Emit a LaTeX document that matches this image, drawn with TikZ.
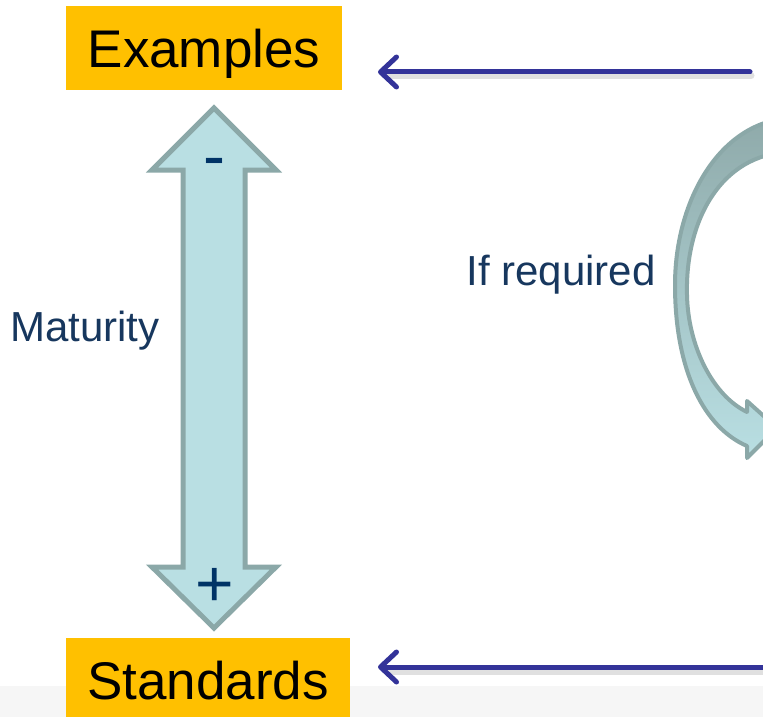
\documentclass[tikz,border=0pt]{standalone}
\usepackage{fontspec}
\setmainfont{Liberation Sans}
\usetikzlibrary{positioning}
\usetikzlibrary{calc}
\usetikzlibrary{arrows.meta}

\definecolor{boxorange}{RGB}{255,192,0}
\definecolor{navytext}{RGB}{23,55,94}
\definecolor{signnavy}{RGB}{0,51,102}
\definecolor{flowblue}{RGB}{51,51,153}
\definecolor{arrowfill}{RGB}{185,223,227}
\definecolor{arrowedge}{RGB}{139,168,168}
\definecolor{curvetop}{RGB}{143,170,170}
\definecolor{stripgray}{RGB}{246,246,246}

\tikzset{
    label box/.style = {fill=boxorange, inner sep=0pt, text height=38pt, text depth=0pt,
                        font=\fontsize{53}{60}\selectfont},
    side text/.style = {text=navytext, inner sep=0pt, font=\fontsize{42}{48}\selectfont},
    sign/.style      = {text=signnavy, inner sep=0pt, font=\fontsize{66}{66}\selectfont},
    flow/.style      = {draw=flowblue, line width=5pt, line cap=round,
                        -{Straight Barb[length=16pt, width=30pt, round]}},
    flow shadow/.style = {draw=black, opacity=0.12, line width=7pt, line cap=round},
    maturity arrow/.style = {fill=arrowfill, draw=arrowedge, line width=5pt, line join=miter},
}

\begin{document}
\begin{tikzpicture}[x=1pt, y=-1pt]
    \useasboundingbox (0,0) rectangle (763,717);
    \clip (0,0) rectangle (763,717);
    \fill[stripgray] (0,686) rectangle (763,717);

    % boxes and texts
    \node[label box, minimum width=276pt, minimum height=84pt] (examples)  at (204,48)  {Examples};
    \node[label box, minimum width=284pt, minimum height=84pt] (standards) at (208,680) {Standards};
    \node[side text] (maturity) at (85,331)  {Maturity};
    \node[side text] (ifreq)    at (561,275) {If required};

    % maturity scale
    \draw[maturity arrow] (214,108) -- (276,170) -- (245,170) -- (245,567) -- (276,567)
        -- (214,628) -- (152,567) -- (183,567) -- (183,170) -- (152,170) -- cycle;
    \node[sign] (less) at (214,168) {-};
    \node[sign] (more) at (215,587) {+};

    % feedback arrows
    \coordinate (topend) at (750,72);
    \coordinate (toptip) at (378,72);
    \coordinate (botend) at (770,667);
    \coordinate (bottip) at (378,667);
    \draw[flow shadow] ($(topend)+(1,4)$) -- ($(toptip)+(12,4)$);
    \draw[flow shadow] ($(botend)+(1,4)$) -- ($(bottip)+(12,4)$);
    \draw[flow] (topend) -- (toptip);
    \draw[flow] (botend) -- (bottip);

    % loop arrow
    \draw[draw=arrowedge, line width=4pt, line join=round, top color=curvetop, bottom color=arrowfill]
        (790,118) .. controls (720,122) and (675,200) .. (675,285)
        .. controls (675,372) and (705,428) .. (747,446)
        -- (747,458) -- (777,428) -- (747,401) -- (747,412)
        .. controls (712,395) and (688,345) .. (687,295)
        .. controls (685,222) and (720,154) .. (790,152) -- cycle;
\end{tikzpicture}
\end{document}
